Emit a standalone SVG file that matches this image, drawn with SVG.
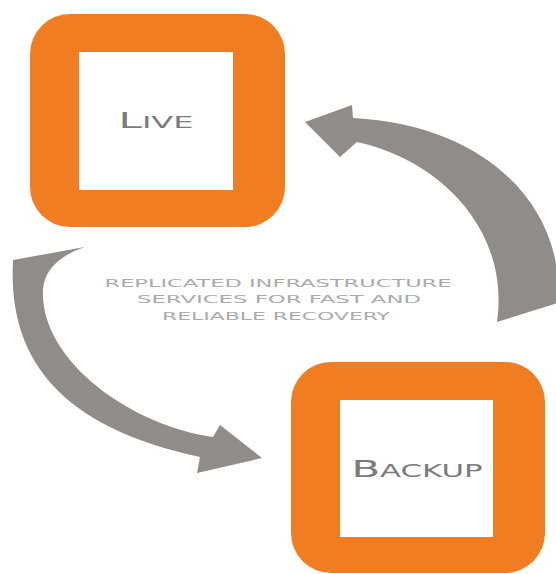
<svg xmlns="http://www.w3.org/2000/svg" width="556" height="574" viewBox="0 0 556 574">
  <style>
    .frame { fill: #f17d23; }
    .inner { fill: #ffffff; }
    .arrow { fill: #908c8a; }
    .nodelabel { font-family: "DejaVu Sans", "Liberation Sans", sans-serif; fill: #7b7b7b; text-anchor: middle; }
    .caption { font-family: "DejaVu Sans", "Liberation Sans", sans-serif; font-size: 11px; fill: #ababab; text-anchor: middle; }
  </style>
  <rect x="0" y="0" width="556" height="574" fill="#ffffff"/>
  <g id="connectors">
    <path id="arrow-live-to-backup" class="arrow" d="M 13,260 C 8,350 50,425 200,457 L 197,473 L 262,458 L 220,425 L 213,437 C 130,425 40,360 43,290 C 44,270 60,255 85,247 Z"/>
    <path id="arrow-backup-to-live" class="arrow" d="M 497,322 L 558,303 C 565,210 490,125 353,118 L 352,105 L 305,122 L 340,157 L 357,142 C 440,160 510,230 497,322 Z"/>
  </g>
  <g id="node-live">
    <rect class="frame" x="30" y="14" width="255" height="213" rx="40" ry="40"/>
    <rect class="inner" x="79" y="52" width="154" height="138"/>
    <text class="nodelabel" x="156" y="128" textLength="75" lengthAdjust="spacingAndGlyphs"><tspan font-size="21">L</tspan><tspan font-size="16">IVE</tspan></text>
  </g>
  <g id="node-backup">
    <rect class="frame" x="291" y="362" width="254" height="211" rx="40" ry="40"/>
    <rect class="inner" x="340" y="400" width="153" height="137"/>
    <text class="nodelabel" x="417" y="477" textLength="131" lengthAdjust="spacingAndGlyphs"><tspan font-size="23">B</tspan><tspan font-size="17">ACKUP</tspan></text>
  </g>
  <g id="caption">
    <text class="caption" x="278" y="287" textLength="347" lengthAdjust="spacingAndGlyphs">REPLICATED INFRASTRUCTURE</text>
    <text class="caption" x="279" y="303" textLength="284" lengthAdjust="spacingAndGlyphs">SERVICES FOR FAST AND</text>
    <text class="caption" x="276" y="320" textLength="228" lengthAdjust="spacingAndGlyphs">RELIABLE RECOVERY</text>
  </g>
</svg>
